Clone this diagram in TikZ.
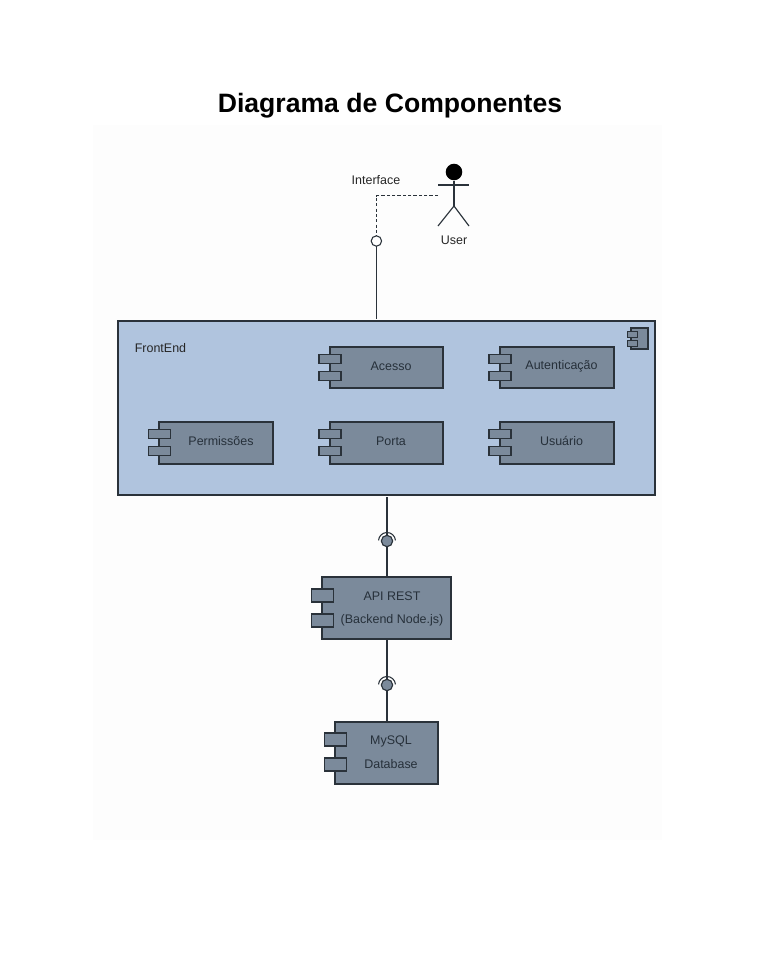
\documentclass[tikz,border=0pt]{standalone}
\usepackage{fontspec}
\setmainfont{Liberation Sans}
\definecolor{panelblue}{HTML}{B0C4DE}
\definecolor{compgrey}{HTML}{7B8A9B}
\definecolor{inkline}{HTML}{2A323A}
\definecolor{inktext}{HTML}{26303A}
\definecolor{pagetint}{HTML}{FDFDFD}
\tikzset{
  x=0.75pt,y=-0.75pt,
  line/.style={draw=inkline,line width=0.85pt},
  body/.style={line,fill=compgrey,inner sep=0pt,outer sep=0pt,rectangle},
  port/.style={line,fill=compgrey,inner sep=0pt,outer sep=0pt,rectangle},
  lab/.style={inner sep=0pt,text=black!85,font=\fontsize{9.35pt}{12pt}\selectfont},
  inlab/.style={lab,text=inktext},
  ball/.style={circle,line,fill=compgrey,inner sep=0pt,outer sep=0pt,minimum size=8.5pt},
  lolly/.style={circle,draw=inkline,line width=0.8pt,fill=white,inner sep=0pt,minimum size=7.8pt,outer sep=0pt},
  smallport/.style={port,minimum width=16.5pt,minimum height=6.4pt},
  bigport/.style={port,minimum width=16pt,minimum height=9.75pt},
  cup/.style={draw=inkline,line width=0.8pt},
}
\newcommand{\compbox}[5]{%
  \node[body,minimum width=#4*0.75pt,minimum height=#5*0.75pt] (#1) at (#2,#3) {};
}
\begin{document}
\begin{tikzpicture}
\useasboundingbox (0,0) rectangle (783,979);
\fill[white] (0,0) rectangle (783,979);
\fill[pagetint] (93,125) rectangle (662,840);
\node[inner sep=0pt,font=\fontsize{19.95pt}{24pt}\selectfont\bfseries] (title) at (390,105.5) {Diagrama de Componentes};

% actor
\node[circle,fill=black,inner sep=0pt,minimum size=12.4pt] (head) at (454,172) {};
\coordinate (hip) at (454,206);
\coordinate (armL) at (438,185);
\coordinate (armR) at (469,185);
\coordinate (legL) at (438,226);
\coordinate (legR) at (469,226);
\coordinate (dashEnd) at (438,195.5);
\draw[line] (head) -- (hip);
\draw[line] (armL) -- (armR);
\draw[line] (legL) -- (hip) -- (legR);
\node[lab] (user) at (454,240.5) {User};
\node[lab] (iface) at (376,180) {Interface};

% frontend
\node[body,fill=panelblue,minimum width=537*0.75pt,minimum height=174*0.75pt] (fe) at (386.5,408) {};
\node[lab] (felabel) at (160.5,348) {FrontEnd};

% interface lollipop
\node[lolly] (lol) at (376.4,241) {};
\draw[line,line width=1pt,dash pattern=on 2.4pt off 1.6pt] (dashEnd) -| (lol.north);
\draw[line,line width=1pt] (lol.south) -- ([yshift=1.5pt]fe.north -| lol.south);

% small icon
\node[port,minimum width=17*0.75pt,minimum height=21*0.75pt] (icon) at (639.5,338.5) {};
\node[port,minimum width=10*0.75pt,minimum height=5.5*0.75pt] (iconA) at (632.5,334.5) {};
\node[port,minimum width=10*0.75pt,minimum height=5.5*0.75pt] (iconB) at (632.5,343.5) {};

% inner components
\compbox{acesso}{386.5}{367.5}{113}{41}
\node[smallport] (acessoA) at (330,359) {};
\node[smallport] (acessoB) at (330,376) {};
\node[inlab] (acessoT) at (391,366) {Acesso};

\compbox{autent}{557}{367.5}{114}{41}
\node[smallport] (autentA) at (500,359) {};
\node[smallport] (autentB) at (500,376) {};
\node[inlab] (autentT) at (561.5,366.7) {Autenticação};

\compbox{perm}{216}{443}{114}{42}
\node[smallport] (permA) at (159.5,434) {};
\node[smallport] (permB) at (159.5,451) {};
\node[inlab] (permT) at (221,441) {Permissões};

\compbox{porta}{386.5}{443}{113}{42}
\node[smallport] (portaA) at (330,434) {};
\node[smallport] (portaB) at (330,451) {};
\node[inlab] (portaT) at (391,441) {Porta};

\compbox{usuario}{557}{443}{114}{42}
\node[smallport] (usuarioA) at (500,434) {};
\node[smallport] (usuarioB) at (500,451) {};
\node[inlab] (usuarioT) at (561.5,441) {Usuário};

% api
\compbox{api}{386.5}{608}{129}{62}
\node[inlab] (apiA) at (392,596) {API REST};
\node[inlab] (apiB) at (392,620) {(Backend Node.js)};
\node[bigport] (apiP) at (322.5,595.5) {};
\node[bigport] (apiQ) at (322.5,620.5) {};

% db
\compbox{db}{386.5}{753}{103}{62}
\node[inlab] (dbA) at (391,741) {MySQL};
\node[inlab] (dbB) at (391,764) {Database};
\node[bigport] (dbP) at (335.5,739.5) {};
\node[bigport] (dbQ) at (335.5,764.5) {};

% sockets
\node[ball] (s1) at (387,541) {};
\node[ball] (s2) at (387,685) {};
\draw[line] ([yshift=-1.5pt]s1.north |- fe.south) -- (s1.north);
\draw[line] (s1.south) -- (api.north -| s1.south);
\draw[line] (s2.north |- api.south) -- (s2.north);
\draw[line] (s2.south) -- (db.north -| s2.south);
\draw[cup] (s1.center) ++(-4:8.5) arc[start angle=-4,end angle=-176,radius=8.5];
\draw[cup] (s2.center) ++(-4:8.5) arc[start angle=-4,end angle=-176,radius=8.5];
\end{tikzpicture}
\end{document}
